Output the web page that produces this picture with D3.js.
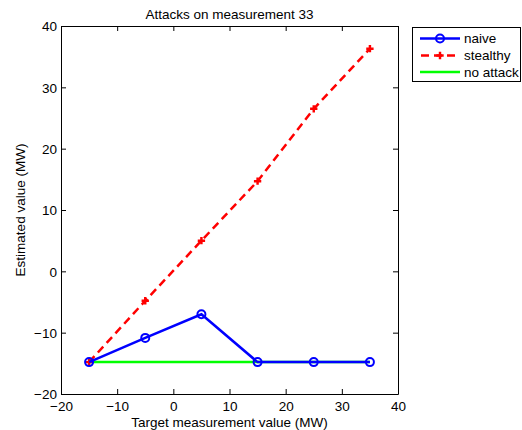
<!DOCTYPE html>
<html><head><meta charset="utf-8">
<script src="https://cdn.jsdelivr.net/npm/d3@7"></script>
<style>body{margin:0;background:#fff}svg{display:block}text{font-family:"Liberation Sans",Arial,sans-serif;fill:#000}</style>
</head><body><svg id="c" width="522" height="430"></svg>
<script>
const xValues = [-15, -5, 5, 15, 25, 35];
const naive = [-14.8, -10.85, -7.0, -14.8, -14.8, -14.8];
const stealthy = [-14.8, -4.8, 5.0, 14.7, 26.5, 36.3];
const noAttack = [-14.8, -14.8, -14.8, -14.8, -14.8, -14.8];
const xTicks = [-20, -10, 0, 10, 20, 30, 40];
const yTicks = [-20, -10, 0, 10, 20, 30, 40];
const seriesNames = ["naive", "stealthy", "no attack"];
const title = "Attacks on measurement 33";
const xLabel = "Target measurement value (MW)";
const yLabel = "Estimated value (MW)";

const svg = d3.select("#c");
const L = 61, R = 398, T = 26, B = 394;
const x = d3.scaleLinear().domain([-20, 40]).range([L, R]);
const y = d3.scaleLinear().domain([-20, 40]).range([B, T]);

const fs = 13.5;
const fmt = d => d < 0 ? "\u2212" + Math.abs(d) : d;
const gx = svg.append("g").attr("transform", `translate(0,${B})`)
  .call(d3.axisBottom(x).tickValues(xTicks).tickSizeInner(-5).tickSizeOuter(0).tickFormat(fmt));
const gxt = svg.append("g").attr("transform", `translate(0,${T})`)
  .call(d3.axisTop(x).tickValues(xTicks).tickSizeInner(-5).tickSizeOuter(0).tickFormat(""));
const gy = svg.append("g").attr("transform", `translate(${L},0)`)
  .call(d3.axisLeft(y).tickValues(yTicks).tickSizeInner(-5).tickSizeOuter(0).tickFormat(fmt));
const gyr = svg.append("g").attr("transform", `translate(${R},0)`)
  .call(d3.axisRight(y).tickValues(yTicks).tickSizeInner(-5).tickSizeOuter(0).tickFormat(""));
[gx, gxt, gy, gyr].forEach(g => {
  g.select(".domain").attr("stroke", "#000").attr("stroke-width", 1);
  g.selectAll(".tick line").attr("stroke", "#000");
  g.selectAll("text").attr("font-size", fs).attr("font-family", '"Liberation Sans",Arial,sans-serif').attr("fill", "#000");
});
gy.selectAll(".tick text").attr("x", -4).attr("dy", "0.35em");
gx.selectAll(".tick text").attr("y", 16.5).attr("dy", 0);

const line = d3.line().x((d, i) => x(xValues[i])).y(d => y(d));

svg.append("path").datum(noAttack).attr("d", line)
  .attr("fill", "none").attr("stroke", "#00ff00").attr("stroke-width", 2.5);

svg.append("path").datum(stealthy).attr("d", line)
  .attr("fill", "none").attr("stroke", "#ff0000").attr("stroke-width", 2.5).attr("stroke-dasharray", "8,5");
const plus = d3.symbol().type(d3.symbolCross).size(30);
svg.append("g").selectAll("path").data(stealthy).join("path")
  .attr("d", plus).attr("transform", (d, i) => `translate(${x(xValues[i])},${y(d)})`)
  .attr("fill", "#ff0000");

svg.append("path").datum(naive).attr("d", line)
  .attr("fill", "none").attr("stroke", "#0000ff").attr("stroke-width", 2.5);
svg.append("g").selectAll("circle").data(naive).join("circle")
  .attr("cx", (d, i) => x(xValues[i])).attr("cy", d => y(d)).attr("r", 4)
  .attr("fill", "none").attr("stroke", "#0000ff").attr("stroke-width", 2);

svg.append("text").attr("x", (L + R) / 2).attr("y", 19).attr("text-anchor", "middle").attr("font-size", fs).text(title);
svg.append("text").attr("x", (L + R) / 2).attr("y", 427).attr("text-anchor", "middle").attr("font-size", fs).text(xLabel);
svg.append("text").attr("transform", `translate(25,${(T + B) / 2}) rotate(-90)`).attr("text-anchor", "middle").attr("font-size", fs).text(yLabel);

const lg = svg.append("g");
lg.append("rect").attr("x", 412.5).attr("y", 27.5).attr("width", 108).attr("height", 54)
  .attr("fill", "#fff").attr("stroke", "#000").attr("stroke-width", 1);
const ly = [38.5, 55.5, 72];
const colors = ["#0000ff", "#ff0000", "#00ff00"];
seriesNames.forEach((name, i) => {
  const l = lg.append("line").attr("x1", 420).attr("x2", 460).attr("y1", ly[i]).attr("y2", ly[i])
    .attr("stroke", colors[i]).attr("stroke-width", 2.5);
  if (i === 1) l.attr("stroke-dasharray", "8,5").attr("stroke-dashoffset", -1);
  if (i === 0) lg.append("circle").attr("cx", 440).attr("cy", ly[i]).attr("r", 4).attr("fill", "none").attr("stroke", colors[i]).attr("stroke-width", 2);
  if (i === 1) lg.append("path").attr("d", plus).attr("transform", `translate(440,${ly[i]})`).attr("fill", colors[i]);
  lg.append("text").attr("x", 464).attr("y", ly[i] + 4.5).attr("font-size", fs).text(name);
});
</script></body></html>
